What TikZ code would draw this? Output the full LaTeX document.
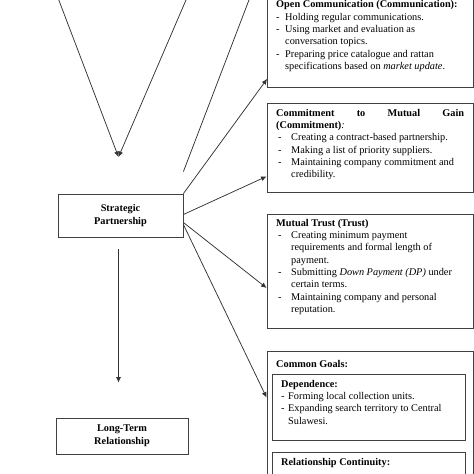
\documentclass[tikz,border=0pt]{standalone}
\usepackage{fontspec}
\setmainfont{Liberation Serif}
\usetikzlibrary{arrows.meta}
\newcommand{\bul}[1]{\makebox[#1][l]{-}}

\begin{document}
\begin{tikzpicture}[x=1pt,y=-1pt,
    box/.style={draw=black!75, line width=0.8pt, inner sep=0pt},
    txt/.style={anchor=north west, inner sep=0pt, align=left, font=\fontsize{10.3}{12.3}\selectfont},
    arr/.style={draw=black!80, line width=0.75pt, -{Latex[length=5.5pt,width=5pt]}},
    ln/.style={draw=black!80, line width=0.75pt}]
    \useasboundingbox (0,0) rectangle (474,474);
    \clip (0,0) rectangle (474,474);

    % Left column
    \node[box, minimum width=125pt, minimum height=43pt, align=center, font=\fontsize{10.3}{13}\selectfont\bfseries] (sp) at (120.5,215.5) {Strategic\\Partnership};
    \node[box, minimum width=132pt, minimum height=36pt, align=center, font=\fontsize{10.3}{13}\selectfont\bfseries] (ltr) at (122,436) {Long-Term\\Relationship};

    % Lines coming in from above
    \coordinate (vl) at (55,-10);
    \coordinate (vr) at (190.3,-10);
    \coordinate (vtip) at (118.5,157);
    \coordinate (vtop) at (252.8,-10);
    \draw[arr] (vl) -- (vtip);
    \draw[arr] (vr) -- (vtip);
    \draw[ln] (vtop) -- ([yshift=22pt]sp.north east);

    % Right column boxes
    \node[box, minimum width=206pt, minimum height=96pt] (oc) at (370.5,39.5) {};
    \node[box, minimum width=206pt, minimum height=89pt] (cm) at (370,147.5) {};
    \node[box, minimum width=206pt, minimum height=114pt] (mt) at (370,271) {};
    \node[box, minimum width=206pt, minimum height=180pt] (cg) at (370,441) {};
    \node[box, minimum width=193pt, minimum height=66pt] (dep) at (368.5,407) {};
    \node[box, minimum width=193pt, minimum height=80pt] (rc) at (368.5,492) {};

    % Texts
    \node[txt] (octxt) at (276,0.5) {\textbf{Open Communication (Communication):}\\
        \bul{9pt}Holding regular communications.\\
        \bul{9pt}Using market and evaluation as\\
        \hspace*{9pt}conversation topics.\\
        \bul{9pt}Preparing price catalogue and rattan\\
        \hspace*{9pt}specifications based on \textit{market update}.};
    \node[txt] (cmtxt) at (276,109) {\hbox to 188pt{\bfseries Commitment\hfill to\hfill Mutual\hfill Gain}\\
        \textbf{(Commitment)}\textit{:}\\
        \hspace*{2pt}\bul{13pt}Creating a contract-based partnership.\\
        \hspace*{2pt}\bul{13pt}Making a list of priority suppliers.\\
        \hspace*{2pt}\bul{13pt}Maintaining company commitment and\\
        \hspace*{15pt}credibility.};
    \node[txt] (mttxt) at (276,219) {\textbf{Mutual Trust (Trust)}\\
        \hspace*{2pt}\bul{13pt}Creating minimum payment\\
        \hspace*{15pt}requirements and formal length of\\
        \hspace*{15pt}payment.\\
        \hspace*{2pt}\bul{13pt}Submitting \textit{Down Payment (DP)} under\\
        \hspace*{15pt}certain terms.\\
        \hspace*{2pt}\bul{13pt}Maintaining company and personal\\
        \hspace*{15pt}reputation.};
    \node[txt] (cgtxt) at (276,360) {\textbf{Common Goals:}};
    \node[txt] (deptxt) at (281,380) {\textbf{Dependence:}\\
        \bul{7pt}Forming local collection units.\\
        \bul{7pt}Expanding search territory to Central\\
        \hspace*{7pt}Sulawesi.};
    \node[txt] (rctxt) at (281,458) {\textbf{Relationship Continuity:}};

    % Arrows
    \draw[arr] (sp.north east) -- ([yshift=9pt]oc.south west);
    \draw[arr] ([yshift=1pt]sp.east) -- ([yshift=16pt]cm.south west);
    \draw[arr] ([yshift=-7pt]sp.east) -- ([yshift=-17pt]mt.west);
    \draw[arr] ([yshift=-9pt]sp.east) -- ([yshift=-47pt]cg.north west);
    \draw[arr, shorten <=12pt, shorten >=35pt] ([xshift=-2pt]sp.south) -- ([xshift=-2pt]sp.south |- ltr.north);
\end{tikzpicture}
\end{document}
